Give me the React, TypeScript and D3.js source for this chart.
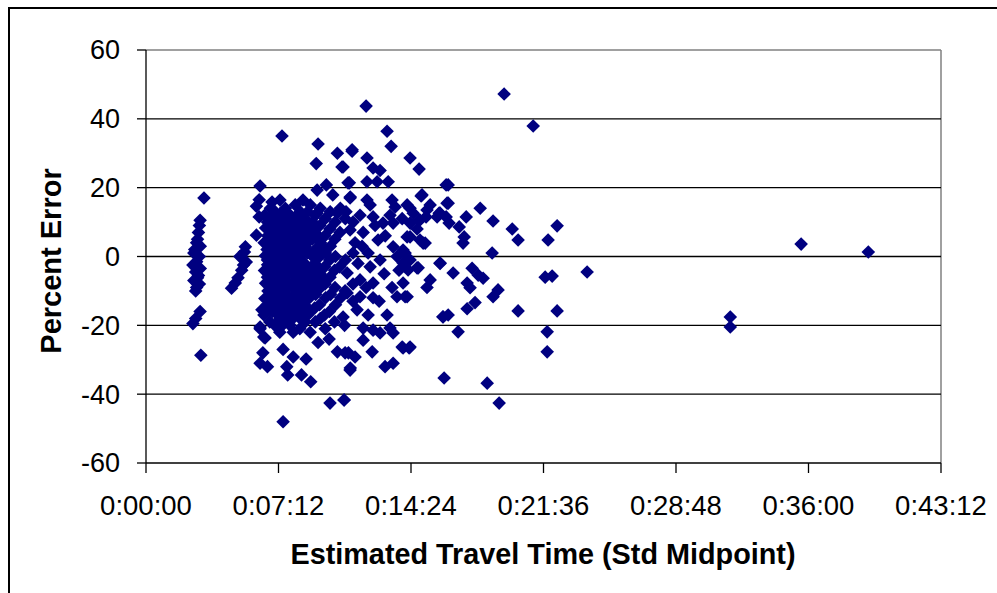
import React from "react";
import * as d3 from "d3";

// x = estimated travel time in minutes, y = percent error
const shortTrips: [number, number][] = [
  [3.15, 17], [2.94, 10.5], [2.9, 9], [2.85, 7], [2.8, 5], [2.75, 4], [2.8, 2.5], [2.6, 1],
  [2.9, 0], [2.75, -1.5], [2.55, -2.5], [2.95, -3.5], [2.7, -4.5], [2.85, -5.5], [2.6, -7],
  [2.9, -8], [2.7, -10], [2.94, -16], [2.7, -18], [2.55, -19.5], [2.98, -28.7], [2.8, -6.2],
  [2.65, 2], [2.95, 3], [2.75, -9],
  [5.4, 2.8], [5.35, 1.3], [5.1, 0], [5.45, -1.6], [5.2, -4], [5.0, -6.2], [4.85, -7.7],
  [4.65, -9.2], [5.3, -2.5],
];

const clusterEdge: [number, number][] = [
  [6.2, 20.5], [6.15, 16.5], [6.0, 14.6], [6.15, 11.5], [6.0, 6.2], [6.3, -15.5], [6.2, -21],
  [6.47, -23.7], [6.35, -28], [6.2, -31], [6.6, -32], [7.45, -27], [7.65, -32], [7.39, 35],
  [7.45, -48], [8.0, -29.2], [7.7, -34.4], [8.7, -29.8], [8.45, -34.4], [8.95, -36.4],
  [10.0, -42.6], [10.77, -41.7], [10.4, -27.7], [11.0, -28], [11.1, -32.4], [6.4, -23.4],
  [6.2, -20.5], [8.0, -22], [9.35, -25], [9.95, -24], [9.35, 32.7], [10.4, 30], [11.2, 30.6],
  [9.25, 27], [10.65, 26], [11.05, 21.4], [9.8, 20.8], [9.3, 19.3], [7.28, 16.4], [6.85, 15.8],
  [8.53, 16.4], [10.15, 17.9], [9.3, 12.6], [10.4, 12.6], [11.1, 17.3],
];

const denseCore: [number, number][] = [
  [6.45, 12], [6.5, 8.3], [6.42, 4], [6.49, 0.2], [6.44, -4.1], [6.5, -7.8], [6.46, -12.2], [6.41, -17],
  [6.76, 14], [6.72, 10.2], [6.77, 6], [6.7, 2.3], [6.74, -2], [6.78, -6.3], [6.71, -10], [6.75, -14.1], [6.73, -19],
  [7.02, 13], [7.0, 9.2], [7.05, 5], [6.98, 1], [7.03, -3], [7.01, -7.2], [6.99, -11], [7.04, -15], [7.0, -20],
  [7.29, 11], [7.26, 7.1], [7.3, 3], [7.27, -1], [7.31, -5.2], [7.25, -9], [7.3, -13], [7.28, -18], [7.27, -22],
  [7.57, 14], [7.55, 10], [7.58, 6.2], [7.54, 2], [7.56, -2.1], [7.59, -6], [7.53, -10], [7.57, -14.2], [7.55, -17],
  [7.84, 12], [7.82, 8.1], [7.85, 4], [7.81, 0], [7.83, -4], [7.86, -8.2], [7.8, -12], [7.84, -16], [7.83, -20],
  [8.11, 15], [8.09, 10], [8.12, 6.1], [8.08, 2], [8.1, -3], [8.13, -7], [8.07, -11.1], [8.11, -15],
  [8.38, 13], [8.36, 9], [8.39, 4.2], [8.35, 0], [8.37, -5], [8.4, -9], [8.34, -13], [8.38, -18], [8.36, -21],
  [8.65, 11], [8.63, 7], [8.66, 3], [8.62, -2], [8.64, -6.1], [8.67, -10], [8.61, -14], [8.65, -19],
  [8.93, 15], [8.91, 9], [8.94, 5], [8.9, 1], [8.92, -4], [8.95, -8], [8.89, -12], [8.93, -16], [8.92, -22],
  [9.2, 12], [9.18, 7], [9.21, 2], [9.17, -2], [9.19, -7], [9.22, -11], [9.16, -15], [9.2, -19],
  [9.47, 14], [9.45, 9], [9.48, 4], [9.44, 0], [9.46, -5], [9.49, -9], [9.43, -14], [9.47, -18],
  [9.74, 11], [9.72, 6], [9.75, 1], [9.71, -3], [9.73, -8], [9.76, -12], [9.7, -17], [9.74, -21],
  [10.01, 13], [9.99, 8], [10.02, 3], [9.98, -1], [10.0, -6], [10.03, -11], [9.97, -16],
  [10.28, 10], [10.26, 5], [10.29, 0], [10.25, -4], [10.27, -9], [10.3, -14], [10.24, -19],
  [10.56, 14], [10.54, 7], [10.53, -3], [10.58, -12],
  [10.83, 11], [10.84, -1], [10.82, -10], [10.79, -20],
  [6.9, 3.5], [7.15, -4.5], [7.4, 8.5], [7.7, -8.5], [7.95, 5.5], [6.6, -1], [7.45, 0.5], [8.25, -1.5],
];

const denseFill: [number, number][] = [
  [6.6, 10], [6.62, 6], [6.58, 2], [6.61, -2.4], [6.6, -6], [6.63, -10], [6.59, -14],
  [6.88, 12], [6.86, 8], [6.89, 4], [6.87, 0], [6.9, -4], [6.85, -8], [6.88, -12], [6.87, -16],
  [7.15, 11], [7.14, 7], [7.16, 3], [7.13, -1], [7.17, -5], [7.15, -9], [7.12, -13], [7.16, -17],
  [7.42, 13], [7.41, 9], [7.43, 5], [7.4, 1], [7.44, -3], [7.42, -7], [7.39, -11], [7.43, -15], [7.41, -20],
  [7.7, 12], [7.69, 8], [7.71, 4], [7.68, 0], [7.72, -4], [7.7, -8], [7.67, -12], [7.71, -18],
  [7.97, 10], [7.96, 6], [7.98, 2], [7.95, -1], [7.99, -5], [7.97, -9], [7.94, -13], [7.98, -18],
  [8.24, 12], [8.23, 8], [8.25, 4], [8.22, -2], [8.26, -7], [8.24, -11], [8.21, -16],
  [8.5, 11], [8.49, 6], [8.51, 2], [8.48, -3], [8.52, -7], [8.5, -11], [8.47, -15],
  [8.78, 13], [8.77, 9], [8.79, 5], [8.76, 1], [8.8, -4], [8.78, -8], [8.75, -12], [8.79, -17],
  [9.05, 10], [9.04, 5], [9.06, 0], [9.03, -5], [9.07, -10],
  [9.33, 6], [9.31, -3], [9.35, -7],
  [9.6, 3], [9.58, -6],
];

const midRange: [number, number][] = [
  [11.96, 43.7], [13.1, 36.4], [13.32, 32], [11.2, 31], [12.01, 28.6], [10.71, 26], [14.35, 28.6],
  [14.84, 25.4], [12.34, 25.7], [12.72, 25], [10.98, 21.4], [12.01, 21.7], [12.56, 21.7], [13.16, 21.7],
  [16.31, 20.8], [11.09, 17], [12.01, 16.4], [12.18, 15], [13.37, 16.4], [13.54, 14.4], [15.0, 17.9],
  [14.35, 14], [15.27, 13.5], [15.98, 12.6], [16.36, 15.5], [11.25, 10], [12.34, 11.5], [12.88, 9.7],
  [13.43, 9.7], [14.35, 9.7], [14.89, 10.6], [15.82, 11.5], [11.09, 7.7], [11.8, 7], [12.61, 4.8],
  [13.43, 2.8], [14.19, 5.7], [15.06, 3.9], [14.08, 1], [11.25, 1], [12.07, 1], [12.72, -1],
  [15.98, -1.9], [13.97, -1.9], [14.73, -3.3], [10.93, -4.8], [11.63, -6.8], [12.34, -7.7],
  [15.44, -6.8], [15.27, -9], [13.97, -7.7], [13.64, -11.7], [14.19, -11.7], [10.93, -10.6],
  [11.63, -11.7], [12.34, -12], [11.47, -15.5], [12.07, -17], [13.1, -17], [10.71, -17.6],
  [11.8, -20.8], [12.34, -21.4], [13.26, -20.8], [13.43, -22.2], [12.72, -22.2], [11.8, -24.3],
  [13.92, -26.3], [14.35, -26.3], [12.29, -27.7], [10.82, -28], [11.36, -29.2], [11.09, -33],
  [12.99, -32], [13.43, -31], [16.2, -35.3], [16.14, -17.6], [10.76, -41.7],
  [11.36, 4], [11.74, 3], [11.52, -2], [12.18, -3], [13.0, 6], [12.45, 9], [11.63, 12], [10.87, 13],
  [11.25, -8], [11.96, -9], [12.94, -5], [13.37, -9], [13.64, 0], [13.26, 12], [13.92, 11],
  [14.19, 15], [14.73, 8], [15.44, 15], [13.75, -4], [11.25, -13], [12.67, -13],
];

const longTrips: [number, number][] = [
  [19.46, 47.2], [21.04, 37.9], [16.42, 20.8], [14.95, 17.6], [16.42, 15.5], [18.16, 14],
  [18.86, 10.3], [19.9, 8], [22.34, 8.9], [20.22, 4.8], [21.85, 4.8], [18.81, 1], [23.97, -4.5],
  [21.69, -6], [22.07, -5.7], [14.52, 12.6], [14.84, 10.6], [15.22, 11.5], [15.93, 12.6],
  [16.31, 11.5], [16.47, 9.7], [17.02, 8.6], [17.4, 11.5], [17.29, 5.7], [17.23, 3.9],
  [14.35, 5.7], [14.89, 4.8], [15.17, 3.9], [13.97, 1.9], [14.35, -1], [14.79, -3.3], [14.24, -3.9],
  [15.98, -2], [16.69, -4.8], [17.72, -3.4], [18.05, -5.4], [18.32, -6.3], [17.45, -7.7],
  [17.61, -9.1], [19.13, -9.7], [18.86, -11.7], [14.08, -11.7], [17.88, -13.4], [17.45, -15.2],
  [16.14, -17.5], [16.42, -17], [20.22, -15.8], [22.34, -15.8], [16.96, -21.9], [21.8, -21.9],
  [21.8, -27.7], [13.97, -26.6], [14.3, -26.6], [18.54, -36.8], [19.19, -42.6],
  [35.6, 3.6], [39.25, 1.3], [31.75, -17.6], [31.75, -20.5],
];

const xTicks = [0, 7.2, 14.4, 21.6, 28.8, 36.0, 43.2];
const yTicks = [-60, -40, -20, 0, 20, 40, 60];
const xTitle = "Estimated Travel Time (Std Midpoint)";
const yTitle = "Percent Error";

const allPoints = [...shortTrips, ...clusterEdge, ...denseCore, ...denseFill, ...midRange, ...longTrips];

const fmtTime = (m: number) => {
  const s = Math.round(m * 60);
  const h = Math.floor(s / 3600);
  const mm = Math.floor((s % 3600) / 60);
  const ss = s % 60;
  return `${h}:${String(mm).padStart(2, "0")}:${String(ss).padStart(2, "0")}`;
};

export default function App() {
  const W = 997, H = 593;
  const left = 146, right = 941, top = 50, bottom = 463;
  const x = d3.scaleLinear().domain([0, 43.2]).range([left, right]);
  const y = d3.scaleLinear().domain([-60, 60]).range([bottom, top]);
  const font = "'Liberation Sans', Arial, sans-serif";
  const r = 6.8;
  const diamond = `M0,${-r}L${r},0L0,${r}L${-r},0Z`;

  return (
    <svg width={W} height={H} style={{ position: "absolute", left: 0, top: 0, background: "#fff" }}>
      <rect x={0} y={0} width={W} height={H} fill="#fff" />
      <rect x={9} y={8} width={1100} height={700} fill="none" stroke="#000" strokeWidth={2} />
      <line x1={left} x2={right} y1={top} y2={top} stroke="#808080" strokeWidth={1.5} />
      <line x1={right} x2={right} y1={top} y2={bottom} stroke="#808080" strokeWidth={1.5} />
      {yTicks.filter((t) => t > -60 && t < 60).map((t) => (
        <line key={t} x1={left} x2={right} y1={y(t)} y2={y(t)} stroke="#000" strokeWidth={1.3} />
      ))}
      <line x1={left} x2={left} y1={top} y2={bottom} stroke="#000" strokeWidth={1.3} />
      <line x1={left} x2={right} y1={bottom} y2={bottom} stroke="#000" strokeWidth={1.3} />
      {yTicks.map((t) => (
        <g key={t}>
          <line x1={left - 9} x2={left} y1={y(t)} y2={y(t)} stroke="#000" strokeWidth={1.3} />
          <text x={120} y={y(t)} dy="0.35em" textAnchor="end" fontFamily={font} fontSize={27} fill="#000">
            {t}
          </text>
        </g>
      ))}
      {xTicks.map((t) => (
        <g key={t}>
          <line x1={x(t)} x2={x(t)} y1={bottom} y2={bottom + 10} stroke="#000" strokeWidth={1.3} />
          <text x={x(t)} y={515} textAnchor="middle" fontFamily={font} fontSize={27.5} fill="#000">
            {fmtTime(t)}
          </text>
        </g>
      ))}
      <text x={543} y={564} textAnchor="middle" fontFamily={font} fontSize={28.8} fontWeight="bold" fill="#000">
        {xTitle}
      </text>
      <text
        transform={`translate(61,261) rotate(-90)`}
        textAnchor="middle"
        fontFamily={font}
        fontSize={29}
        fontWeight="bold"
        fill="#000"
      >
        {yTitle}
      </text>
      {allPoints.map(([a, b], i) => (
        <path key={i} d={diamond} transform={`translate(${x(a)},${y(b)})`} fill="#000080" />
      ))}
    </svg>
  );
}
